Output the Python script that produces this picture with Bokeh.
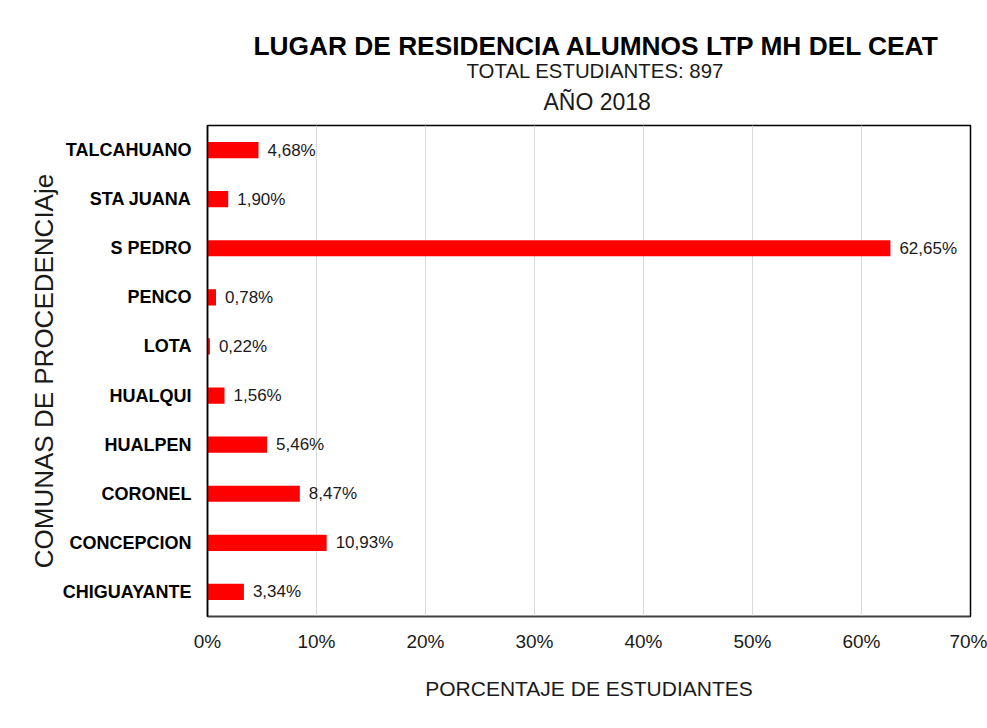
from bokeh.plotting import figure
from bokeh.models import (ColumnDataSource, FactorRange, Range1d, FixedTicker,
                          LabelSet, Title)
from bokeh.core.properties import value
from bokeh.embed import file_html
from bokeh.resources import INLINE

# ---- data ----
comunas = ["TALCAHUANO", "STA JUANA", "S PEDRO", "PENCO", "LOTA",
           "HUALQUI", "HUALPEN", "CORONEL", "CONCEPCION", "CHIGUAYANTE"]
porcentajes = [4.68, 1.90, 62.65, 0.78, 0.22, 1.56, 5.46, 8.47, 10.93, 3.34]
x_ticks = [0, 10, 20, 30, 40, 50, 60, 70]
x_tick_labels = ["0%", "10%", "20%", "30%", "40%", "50%", "60%", "70%"]

title_main = "LUGAR DE RESIDENCIA ALUMNOS LTP MH DEL CEAT"
title_sub1 = "TOTAL ESTUDIANTES: 897"
title_sub2 = "AÑO 2018"
y_label = "COMUNAS DE PROCEDENCIAje"
x_label = "PORCENTAJE DE ESTUDIANTES"

FONT = "Liberation Sans"

labels = [f"{v:.2f}".replace(".", ",") + "%" for v in porcentajes]
source = ColumnDataSource(dict(comuna=comunas, pct=porcentajes, label=labels))

p = figure(width=987, height=728, output_backend="svg", toolbar_location=None,
           y_range=FactorRange(factors=list(reversed(comunas))),
           x_range=Range1d(0, x_ticks[-1]),
           min_border_left=207, min_border_right=17,
           min_border_top=125, min_border_bottom=112)

p.hbar(y="comuna", right="pct", left=0, height=0.33, source=source,
       fill_color="#ff0000", line_color=None)

p.add_layout(LabelSet(x="pct", y="comuna", text="label", source=source,
                      x_offset=9, text_baseline="middle", text_align="left",
                      text_font=value(FONT), text_font_size=value("17px"),
                      text_color="#1a1a1a"))

# titles (added from closest to the frame outward); left-aligned with offsets
p.add_layout(Title(text=title_sub2, align="left", offset=336, text_font=FONT,
                   text_font_size="23px", text_font_style="normal",
                   text_color="#1a1a1a", standoff=21), "above")
p.add_layout(Title(text=title_sub1, align="left", offset=259, text_font=FONT,
                   text_font_size="20.4px", text_font_style="normal",
                   text_color="#1a1a1a", standoff=-10), "above")
p.add_layout(Title(text=title_main, align="left", offset=46, text_font=FONT,
                   text_font_size="26.3px", text_font_style="bold",
                   text_color="black", standoff=3), "above")

# x axis
xa = p.xaxis[0]
xa.ticker = FixedTicker(ticks=x_ticks)
xa.major_label_overrides = {t: l for t, l in zip(x_ticks, x_tick_labels)}
xa.major_label_text_font = FONT
xa.major_label_text_font_size = "19px"
xa.major_label_text_color = "#1a1a1a"
xa.major_label_standoff = 14
xa.major_tick_line_color = None
xa.minor_tick_line_color = None
xa.major_tick_out = 0
xa.major_tick_in = 0
xa.axis_line_color = "#404040"
xa.axis_line_width = 1.5
xa.axis_label = x_label
xa.axis_label_text_font = FONT
xa.axis_label_text_font_size = "21px"
xa.axis_label_text_font_style = "normal"
xa.axis_label_text_color = "#1a1a1a"
xa.axis_label_standoff = 22

# y axis
ya = p.yaxis[0]
ya.major_label_text_font = FONT
ya.major_label_text_font_size = "18px"
ya.major_label_text_font_style = "bold"
ya.major_label_text_color = "black"
ya.major_label_standoff = 16
ya.major_tick_line_color = None
ya.minor_tick_line_color = None
ya.major_tick_out = 0
ya.major_tick_in = 0
ya.axis_line_color = "black"
ya.axis_line_width = 1.5
ya.axis_label = y_label
ya.axis_label_text_font = FONT
ya.axis_label_text_font_size = "26px"
ya.axis_label_text_font_style = "normal"
ya.axis_label_text_color = "#1a1a1a"
ya.axis_label_standoff = 1

p.ygrid.grid_line_color = None
p.xgrid.grid_line_color = "#d9d9d9"
p.xgrid.grid_line_width = 1

p.outline_line_color = "black"
p.outline_line_width = 1.5
p.background_fill_color = "white"
p.border_fill_color = "white"

open("out.html", "w").write(file_html(p, INLINE))
